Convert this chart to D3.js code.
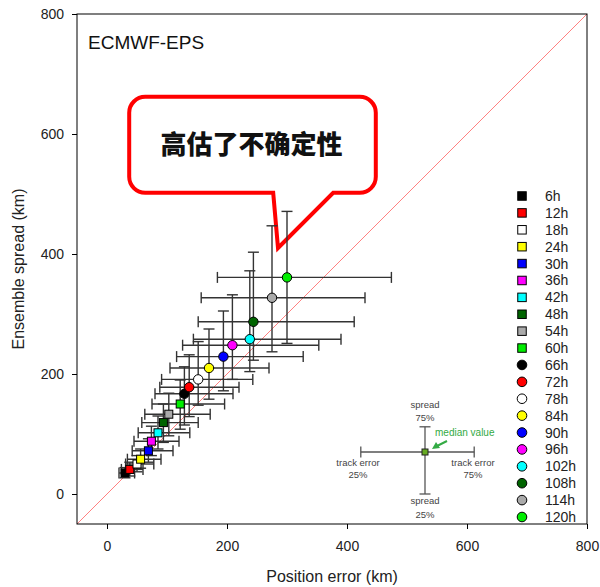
<!DOCTYPE html>
<html><head><meta charset="utf-8">
<script src="https://cdn.jsdelivr.net/npm/d3@7"></script>
<style>body{margin:0;background:#fff;} svg{font-family:"Liberation Sans",Arial,sans-serif;}</style>
</head><body><svg id="c" width="600" height="587"></svg>
<script>
const leads = ["6h","12h","18h","24h","30h","36h","42h","48h","54h","60h","66h","72h","78h","84h","90h","96h","102h","108h","114h","120h"];
const colors = ["#000000","#ff0000","#ffffff","#ffff00","#0000ff","#ff00ff","#00ffff","#006400","#aaaaaa","#00ee00",
                "#000000","#ff0000","#ffffff","#ffff00","#0000ff","#ff00ff","#00ffff","#006400","#aaaaaa","#00ee00"];
const shapes = ["square","square","square","square","square","square","square","square","square","square",
                "circle","circle","circle","circle","circle","circle","circle","circle","circle","circle"];
const posErr   = [30,38,50,56,69,74,85,94,103,122,129,137,152,170,194,209,238,244,275,300];
const posErr25 = [20,24,31,34,42,45,52,58,63,75,80,88,91,105,116,126,144,152,157,184];
const posErr75 = [46,60,78,90,110,120,138,152,172,196,210,220,243,270,327,353,390,412,430,474];
const spread   = [35,41,50,58,72,88,102,119,133,150,167,178,191,210,229,248,258,287,327,361];
const spread25 = [27,30,37,43,53,64,75,86,97,108,115,129,148,158,172,191,204,223,237,251];
const spread75 = [44,53,64,75,92,113,130,150,168,190,212,232,254,275,305,332,372,403,447,471];
const ticks = [0,200,400,600,800];
const keyPoint = {x:530, y:70, x25:423, x75:612, y25:0, y75:112};
const callout = {x0:37, x1:448, y0:662, y1:502, tailL:277, tailR:377, tipX:285, tipY:410, text:"高估了不确定性"};

const svg = d3.select("#c");
const x = d3.scaleLinear().domain([-50,800]).range([77,587]);
const y = d3.scaleLinear().domain([-50,800]).range([524,14]);

svg.append("clipPath").attr("id","clip").append("rect")
  .attr("x",x(-50)).attr("y",y(800)).attr("width",x(800)-x(-50)).attr("height",y(-50)-y(800));

// diagonal
svg.append("line").attr("clip-path","url(#clip)")
  .attr("x1",x(-50)).attr("y1",y(-50)).attr("x2",x(800)).attr("y2",y(800))
  .attr("stroke","#ff8080").attr("stroke-width",1);

// axes
const xa = svg.append("g").attr("transform",`translate(0,${y(-50)})`)
  .call(d3.axisBottom(x).tickValues(ticks).tickSize(5).tickPadding(12));
const ya = svg.append("g").attr("transform",`translate(${x(-50)},0)`)
  .call(d3.axisLeft(y).tickValues(ticks).tickSize(5).tickPadding(8));
[xa,ya].forEach(a=>{a.select(".domain").remove();
  a.selectAll("text").attr("font-size",14).attr("fill","#222").attr("font-family","Liberation Sans, Arial, sans-serif");
  a.selectAll("line").attr("stroke","#000");});

svg.append("rect").attr("x",x(-50)).attr("y",y(800)).attr("width",x(800)-x(-50)).attr("height",y(-50)-y(800))
  .attr("fill","none").attr("stroke","#000").attr("stroke-width",1);

svg.append("text").attr("x",(x(-50)+x(800))/2).attr("y",582).attr("text-anchor","middle")
  .attr("font-size",16).attr("fill","#222").text("Position error (km)");
svg.append("text").attr("transform",`translate(24,${(y(-50)+y(800))/2}) rotate(-90)`).attr("text-anchor","middle")
  .attr("font-size",16).attr("fill","#222").text("Ensemble spread (km)");

svg.append("text").attr("x",88).attr("y",49).attr("font-size",19).attr("fill","#111").text("ECMWF-EPS");

// callout
(function(){
  const X0=x(callout.x0), X1=x(callout.x1), Y0=y(callout.y0), Y1=y(callout.y1), r=16;
  const p = d3.path();
  p.moveTo(X0+r,Y0); p.lineTo(X1-r,Y0); p.arcTo(X1,Y0,X1,Y0+r,r);
  p.lineTo(X1,Y1-r); p.arcTo(X1,Y1,X1-r,Y1,r);
  p.lineTo(x(callout.tailR),Y1); p.lineTo(x(callout.tipX),y(callout.tipY)); p.lineTo(x(callout.tailL),Y1);
  p.lineTo(X0+r,Y1); p.arcTo(X0,Y1,X0,Y1-r,r); p.lineTo(X0,Y0+r); p.arcTo(X0,Y0,X0+r,Y0,r); p.closePath();
  svg.append("path").attr("d",p.toString()).attr("fill","#fff").attr("stroke","#ff0000").attr("stroke-width",4).attr("stroke-linejoin","miter");
  svg.append("text").attr("x",(X0+X1)/2-1).attr("y",(Y0+Y1)/2+9).attr("text-anchor","middle")
    .attr("font-family","Noto Sans CJK SC").attr("font-weight","900").attr("font-size",26).attr("fill","#111").text(callout.text);
})();

// error bars
const data = leads.map((l,i)=>({l, c:colors[i], s:shapes[i], x:posErr[i], x25:posErr25[i], x75:posErr75[i], y:spread[i], y25:spread25[i], y75:spread75[i]}));
const cap = 5.5;
const eb = svg.append("g").attr("stroke","#333").attr("stroke-width",1.4).attr("clip-path","url(#clip)");
function bars(g,d){
  g.append("line").attr("x1",x(d.x25)).attr("x2",x(d.x75)).attr("y1",y(d.y)).attr("y2",y(d.y));
  g.append("line").attr("x1",x(d.x25)).attr("x2",x(d.x25)).attr("y1",y(d.y)-cap).attr("y2",y(d.y)+cap);
  g.append("line").attr("x1",x(d.x75)).attr("x2",x(d.x75)).attr("y1",y(d.y)-cap).attr("y2",y(d.y)+cap);
  g.append("line").attr("x1",x(d.x)).attr("x2",x(d.x)).attr("y1",y(d.y25)).attr("y2",y(d.y75));
  g.append("line").attr("x1",x(d.x)-cap).attr("x2",x(d.x)+cap).attr("y1",y(d.y25)).attr("y2",y(d.y25));
  g.append("line").attr("x1",x(d.x)-cap).attr("x2",x(d.x)+cap).attr("y1",y(d.y75)).attr("y2",y(d.y75));
}
data.forEach(d=>bars(eb,d));

function marker(g,shape,cx,cy,color,sq,r){
  if(shape==="square") g.append("rect").attr("x",cx-sq/2).attr("y",cy-sq/2).attr("width",sq).attr("height",sq)
     .attr("fill",color).attr("stroke","#000").attr("stroke-width",1);
  else g.append("circle").attr("cx",cx).attr("cy",cy).attr("r",r).attr("fill",color).attr("stroke","#000").attr("stroke-width",1);
}
const mk = svg.append("g");
data.forEach(d=>marker(mk,d.s,x(d.x),y(d.y),d.c,8,4.7));

// legend
const lg = svg.append("g");
const ly = d3.scaleLinear().domain([0,leads.length-1]).range([196,517]);
data.forEach((d,i)=>{
  marker(lg,d.s,522,ly(i),d.c,8.5,4.8);
  lg.append("text").attr("x",545).attr("y",ly(i)+5).attr("font-size",14).attr("fill","#222").text(d.l);
});

// key inset
(function(){
  const k = svg.append("g");
  const g = k.append("g").attr("stroke","#555").attr("stroke-width",1.3);
  bars(g,keyPoint);
  const cx=x(keyPoint.x), cy=y(keyPoint.y);
  k.append("rect").attr("x",cx-3).attr("y",cy-3).attr("width",6).attr("height",6).attr("fill","#66aa22").attr("stroke","#222").attr("stroke-width",1);
  const t = k.append("g").attr("font-size",9.5).attr("fill","#444").attr("text-anchor","middle");
  t.append("text").attr("x",cx).attr("y",cy-44).text("spread");
  t.append("text").attr("x",cx).attr("y",cy-31).text("75%");
  t.append("text").attr("x",cx).attr("y",cy+52).text("spread");
  t.append("text").attr("x",cx).attr("y",cy+66).text("25%");
  t.append("text").attr("x",cx-67).attr("y",cy+14).text("track error");
  t.append("text").attr("x",cx-67).attr("y",cy+26).text("25%");
  t.append("text").attr("x",cx+48).attr("y",cy+14).text("track error");
  t.append("text").attr("x",cx+48).attr("y",cy+26).text("75%");
  k.append("text").attr("x",cx+10).attr("y",cy-16).attr("font-size",10).attr("fill","#33aa44").text("median value");
  k.append("line").attr("x1",cx+22).attr("y1",cy-11).attr("x2",cx+12).attr("y2",cy-6).attr("stroke","#33aa44").attr("stroke-width",2);
  k.append("path").attr("d",`M${cx+7},${cy-3} L${cx+11},${cy-10} L${cx+15},${cy-4} Z`).attr("fill","#33aa44");
})();
</script></body></html>
